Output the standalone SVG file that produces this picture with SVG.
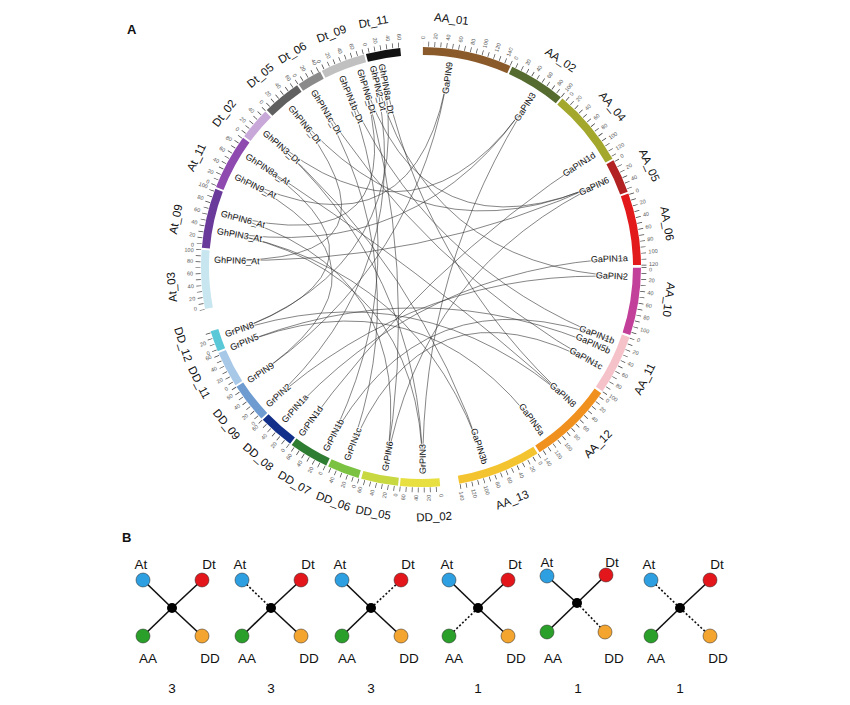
<svg xmlns="http://www.w3.org/2000/svg" width="850" height="705" viewBox="0 0 850 705">
<style>
text{font-family:"Liberation Sans",Arial,sans-serif;fill:#111}
.seg{fill:none;stroke-width:8}
.nm{font-size:11.5px;text-anchor:middle;dominant-baseline:central}
.gr{font-size:9px;text-anchor:end;dominant-baseline:central;stroke:#fff;stroke-width:2;paint-order:stroke;stroke-opacity:0.8}
.gl{font-size:9px;text-anchor:start;dominant-baseline:central;stroke:#fff;stroke-width:2;paint-order:stroke;stroke-opacity:0.8}
.tr{font-size:5.5px;fill:#555;text-anchor:start;dominant-baseline:central}
.tl{font-size:5.5px;fill:#555;text-anchor:end;dominant-baseline:central}
.lk path{fill:none;stroke:#333;stroke-width:0.7;stroke-opacity:0.85}
.ed{stroke:#111;stroke-width:1.6}
.dt{stroke:#111;stroke-width:1.6;stroke-dasharray:2 2}
.bl{fill:#2E9FE0;stroke:#222;stroke-width:0.5}
.rd{fill:#E3161B;stroke:#222;stroke-width:0.5}
.gn{fill:#2AA02A;stroke:#222;stroke-width:0.5}
.or{fill:#F4A530;stroke:#222;stroke-width:0.5}
.ml{font-size:13.5px;text-anchor:middle}
.ct{font-size:13.5px;text-anchor:middle}
</style>
<rect width="850" height="705" fill="#fff"/>
<text x="127" y="34" font-size="13" font-weight="bold">A</text>
<text x="122" y="542" font-size="13" font-weight="bold">B</text>

<circle cx="421" cy="267" r="223" fill="none" stroke="#444" stroke-width="5" stroke-dasharray="0.7 5.38"/>
<g fill="none" stroke="#fff" stroke-width="8">
<circle cx="421" cy="267" r="223" stroke-dasharray="19 2000" transform="rotate(80.2 421 267)"/>
<circle cx="421" cy="267" r="223" stroke-dasharray="21.5 2000" transform="rotate(163.2 421 267)"/>
<circle cx="421" cy="267" r="223" stroke-dasharray="23 2000" transform="rotate(264.7 421 267)"/>
</g>

<g id="seg-AA_01"><circle class="seg" cx="421" cy="267" r="216" stroke="#8B5A2B" stroke-dasharray="88.6 2000" transform="rotate(-89.5 421 267)"/><text class="nm" transform="rotate(7 421 267)" x="421" y="17">AA_01</text></g>
<g id="seg-AA_02"><circle class="seg" cx="421" cy="267" r="216" stroke="#556B2F" stroke-dasharray="56.5 2000" transform="rotate(-65.5 421 267)"/><text class="nm" transform="rotate(34 421 267)" x="421" y="17">AA_02</text></g>
<g id="seg-AA_04"><circle class="seg" cx="421" cy="267" r="216" stroke="#A3A82C" stroke-dasharray="77.3 2000" transform="rotate(-50 421 267)"/><text class="nm" transform="rotate(50 421 267)" x="421" y="17">AA_04</text></g>
<g id="seg-AA_05"><circle class="seg" cx="421" cy="267" r="216" stroke="#B22222" stroke-dasharray="33.9 2000" transform="rotate(-29 421 267)"/><text class="nm" transform="rotate(66 421 267)" x="421" y="17">AA_05</text></g>
<g id="seg-AA_06"><circle class="seg" cx="421" cy="267" r="216" stroke="#E31A1C" stroke-dasharray="71.6 2000" transform="rotate(-19.5 421 267)"/><text class="nm" transform="rotate(80 421 267)" x="421" y="17">AA_06</text></g>
<g id="seg-AA_10"><circle class="seg" cx="421" cy="267" r="216" stroke="#C2409A" stroke-dasharray="67.1 2000" transform="rotate(0.2 421 267)"/><text class="nm" transform="rotate(97.5 421 267)" x="421" y="17">AA_10</text></g>
<g id="seg-AA_11"><circle class="seg" cx="421" cy="267" r="216" stroke="#F4C2C8" stroke-dasharray="59.6 2000" transform="rotate(18.6 421 267)"/><text class="nm" transform="rotate(-63.4 421 267)" x="421" y="517">AA_11</text></g>
<g id="seg-AA_12"><circle class="seg" cx="421" cy="267" r="216" stroke="#F0901E" stroke-dasharray="84.4 2000" transform="rotate(35 421 267)"/><text class="nm" transform="rotate(-45 421 267)" x="421" y="517">AA_12</text></g>
<g id="seg-AA_13"><circle class="seg" cx="421" cy="267" r="216" stroke="#F4C430" stroke-dasharray="82.9 2000" transform="rotate(58 421 267)"/><text class="nm" transform="rotate(-21.4 421 267)" x="421" y="517">AA_13</text></g>
<g id="seg-DD_02"><circle class="seg" cx="421" cy="267" r="216" stroke="#E8E040" stroke-dasharray="39.6 2000" transform="rotate(85 421 267)"/><text class="nm" transform="rotate(-3 421 267)" x="421" y="517">DD_02</text></g>
<g id="seg-DD_05"><circle class="seg" cx="421" cy="267" r="216" stroke="#C8D840" stroke-dasharray="36.9 2000" transform="rotate(96 421 267)"/><text class="nm" transform="rotate(11 421 267)" x="421" y="517">DD_05</text></g>
<g id="seg-DD_06"><circle class="seg" cx="421" cy="267" r="216" stroke="#7CC242" stroke-dasharray="32 2000" transform="rotate(106.5 421 267)"/><text class="nm" transform="rotate(20.5 421 267)" x="421" y="517">DD_06</text></g>
<g id="seg-DD_07"><circle class="seg" cx="421" cy="267" r="216" stroke="#2E7D32" stroke-dasharray="39.6 2000" transform="rotate(115.5 421 267)"/><text class="nm" transform="rotate(30.4 421 267)" x="421" y="517">DD_07</text></g>
<g id="seg-DD_08"><circle class="seg" cx="421" cy="267" r="216" stroke="#12308A" stroke-dasharray="35.8 2000" transform="rotate(126.5 421 267)"/><text class="nm" transform="rotate(40.6 421 267)" x="421" y="517">DD_08</text></g>
<g id="seg-DD_09"><circle class="seg" cx="421" cy="267" r="216" stroke="#6E9BD0" stroke-dasharray="39.6 2000" transform="rotate(136.5 421 267)"/><text class="nm" transform="rotate(51 421 267)" x="421" y="517">DD_09</text></g>
<g id="seg-DD_11"><circle class="seg" cx="421" cy="267" r="216" stroke="#A8C8E8" stroke-dasharray="35.8 2000" transform="rotate(147.5 421 267)"/><text class="nm" transform="rotate(62.5 421 267)" x="421" y="517">DD_11</text></g>
<g id="seg-DD_12"><circle class="seg" cx="421" cy="267" r="216" stroke="#5BC8D8" stroke-dasharray="20.7 2000" transform="rotate(157.5 421 267)"/><text class="nm" transform="rotate(72 421 267)" x="421" y="517">DD_12</text></g>
<g id="seg-At_03"><circle class="seg" cx="421" cy="267" r="216" stroke="#C8E6F0" stroke-dasharray="58.4 2000" transform="rotate(169 421 267)"/><text class="nm" transform="rotate(265.4 421 267)" x="421" y="17">At_03</text></g>
<g id="seg-At_09"><circle class="seg" cx="421" cy="267" r="216" stroke="#6A3A9A" stroke-dasharray="59.6 2000" transform="rotate(185 421 267)"/><text class="nm" transform="rotate(281 421 267)" x="421" y="17">At_09</text></g>
<g id="seg-At_11"><circle class="seg" cx="421" cy="267" r="216" stroke="#8E4AAE" stroke-dasharray="55.4 2000" transform="rotate(201.3 421 267)"/><text class="nm" transform="rotate(296 421 267)" x="421" y="17">At_11</text></g>
<g id="seg-Dt_02"><circle class="seg" cx="421" cy="267" r="216" stroke="#C8A8D8" stroke-dasharray="32 2000" transform="rotate(216.5 421 267)"/><text class="nm" transform="rotate(308 421 267)" x="421" y="17">Dt_02</text></g>
<g id="seg-Dt_05"><circle class="seg" cx="421" cy="267" r="216" stroke="#606060" stroke-dasharray="38.5 2000" transform="rotate(225.5 421 267)"/><text class="nm" transform="rotate(320 421 267)" x="421" y="17">Dt_05</text></g>
<g id="seg-Dt_06"><circle class="seg" cx="421" cy="267" r="216" stroke="#8A8A8A" stroke-dasharray="24.5 2000" transform="rotate(236.2 421 267)"/><text class="nm" transform="rotate(329 421 267)" x="421" y="17">Dt_06</text></g>
<g id="seg-Dt_09"><circle class="seg" cx="421" cy="267" r="216" stroke="#C0C0C0" stroke-dasharray="44.5 2000" transform="rotate(243.2 421 267)"/><text class="nm" transform="rotate(339 421 267)" x="421" y="17">Dt_09</text></g>
<g id="seg-Dt_11"><circle class="seg" cx="421" cy="267" r="216" stroke="#111111" stroke-dasharray="34.3 2000" transform="rotate(255.5 421 267)"/><text class="nm" transform="rotate(349 421 267)" x="421" y="17">Dt_11</text></g>

<g id="ticks-right">
<text class="tr" transform="rotate(-89.5 421 267)" x="649" y="267">0</text><text class="tr" transform="rotate(-86.4 421 267)" x="649" y="267">20</text><text class="tr" transform="rotate(-83.25 421 267)" x="649" y="267">40</text><text class="tr" transform="rotate(-80.1 421 267)" x="649" y="267">60</text><text class="tr" transform="rotate(-77 421 267)" x="649" y="267">80</text><text class="tr" transform="rotate(-73.9 421 267)" x="649" y="267">100</text><text class="tr" transform="rotate(-70.75 421 267)" x="649" y="267">120</text><text class="tr" transform="rotate(-67.6 421 267)" x="649" y="267">140</text>
<text class="tr" transform="rotate(-65.5 421 267)" x="649" y="267">0</text><text class="tr" transform="rotate(-62.4 421 267)" x="649" y="267">20</text><text class="tr" transform="rotate(-59.25 421 267)" x="649" y="267">40</text><text class="tr" transform="rotate(-56.1 421 267)" x="649" y="267">60</text><text class="tr" transform="rotate(-53 421 267)" x="649" y="267">80</text>
<text class="tr" transform="rotate(-50.6 421 267)" x="649" y="267">100</text>
<text class="tr" transform="rotate(-49 421 267)" x="649" y="267">0</text><text class="tr" transform="rotate(-46.9 421 267)" x="649" y="267">20</text><text class="tr" transform="rotate(-43.75 421 267)" x="649" y="267">40</text><text class="tr" transform="rotate(-40.6 421 267)" x="649" y="267">60</text><text class="tr" transform="rotate(-37.5 421 267)" x="649" y="267">80</text><text class="tr" transform="rotate(-34.4 421 267)" x="649" y="267">100</text><text class="tr" transform="rotate(-31.25 421 267)" x="649" y="267">120</text>
<text class="tr" transform="rotate(-29 421 267)" x="649" y="267">0</text><text class="tr" transform="rotate(-25.9 421 267)" x="649" y="267">20</text><text class="tr" transform="rotate(-22.75 421 267)" x="649" y="267">40</text>
<text class="tr" transform="rotate(-19.5 421 267)" x="649" y="267">0</text><text class="tr" transform="rotate(-16.4 421 267)" x="649" y="267">20</text><text class="tr" transform="rotate(-13.25 421 267)" x="649" y="267">40</text><text class="tr" transform="rotate(-10.1 421 267)" x="649" y="267">60</text><text class="tr" transform="rotate(-7 421 267)" x="649" y="267">80</text><text class="tr" transform="rotate(-3.9 421 267)" x="649" y="267">100</text><text class="tr" transform="rotate(-0.75 421 267)" x="649" y="267">120</text>
<text class="tr" transform="rotate(0.6 421 267)" x="649" y="267">0</text><text class="tr" transform="rotate(3.3 421 267)" x="649" y="267">20</text><text class="tr" transform="rotate(6.45 421 267)" x="649" y="267">40</text><text class="tr" transform="rotate(9.6 421 267)" x="649" y="267">60</text><text class="tr" transform="rotate(12.7 421 267)" x="649" y="267">80</text><text class="tr" transform="rotate(15.8 421 267)" x="649" y="267">100</text>
<text class="tr" transform="rotate(18.6 421 267)" x="649" y="267">0</text><text class="tr" transform="rotate(21.7 421 267)" x="649" y="267">20</text><text class="tr" transform="rotate(24.85 421 267)" x="649" y="267">40</text><text class="tr" transform="rotate(28 421 267)" x="649" y="267">60</text><text class="tr" transform="rotate(31.1 421 267)" x="649" y="267">80</text><text class="tr" transform="rotate(34.2 421 267)" x="649" y="267">100</text>
<text class="tr" transform="rotate(35.6 421 267)" x="649" y="267">0</text><text class="tr" transform="rotate(38.1 421 267)" x="649" y="267">20</text><text class="tr" transform="rotate(41.25 421 267)" x="649" y="267">40</text><text class="tr" transform="rotate(44.4 421 267)" x="649" y="267">60</text><text class="tr" transform="rotate(47.5 421 267)" x="649" y="267">80</text><text class="tr" transform="rotate(50.6 421 267)" x="649" y="267">100</text><text class="tr" transform="rotate(53.75 421 267)" x="649" y="267">120</text><text class="tr" transform="rotate(56.9 421 267)" x="649" y="267">140</text>
<text class="tr" transform="rotate(58.6 421 267)" x="649" y="267">0</text><text class="tr" transform="rotate(61.1 421 267)" x="649" y="267">20</text><text class="tr" transform="rotate(64.25 421 267)" x="649" y="267">40</text><text class="tr" transform="rotate(67.4 421 267)" x="649" y="267">60</text><text class="tr" transform="rotate(70.5 421 267)" x="649" y="267">80</text><text class="tr" transform="rotate(73.6 421 267)" x="649" y="267">100</text><text class="tr" transform="rotate(76.75 421 267)" x="649" y="267">120</text><text class="tr" transform="rotate(79.9 421 267)" x="649" y="267">140</text>
</g>
<g id="ticks-left">
<text class="tl" transform="rotate(-95 421 267)" x="193" y="267">0</text><text class="tl" transform="rotate(-91.9 421 267)" x="193" y="267">20</text><text class="tl" transform="rotate(-88.75 421 267)" x="193" y="267">40</text><text class="tl" transform="rotate(-85.6 421 267)" x="193" y="267">60</text>
<text class="tl" transform="rotate(-83.6 421 267)" x="193" y="267">0</text><text class="tl" transform="rotate(-80.9 421 267)" x="193" y="267">20</text><text class="tl" transform="rotate(-77.75 421 267)" x="193" y="267">40</text><text class="tl" transform="rotate(-74.6 421 267)" x="193" y="267">60</text>
<text class="tl" transform="rotate(-73 421 267)" x="193" y="267">0</text><text class="tl" transform="rotate(-70.4 421 267)" x="193" y="267">20</text><text class="tl" transform="rotate(-67.25 421 267)" x="193" y="267">40</text>
<text class="tl" transform="rotate(-64 421 267)" x="193" y="267">0</text><text class="tl" transform="rotate(-61.4 421 267)" x="193" y="267">20</text><text class="tl" transform="rotate(-58.25 421 267)" x="193" y="267">40</text><text class="tl" transform="rotate(-55.1 421 267)" x="193" y="267">60</text>
<text class="tl" transform="rotate(-53 421 267)" x="193" y="267">0</text><text class="tl" transform="rotate(-50.4 421 267)" x="193" y="267">20</text><text class="tl" transform="rotate(-47.25 421 267)" x="193" y="267">40</text><text class="tl" transform="rotate(-44.1 421 267)" x="193" y="267">60</text>
<text class="tl" transform="rotate(-43 421 267)" x="193" y="267">0</text><text class="tl" transform="rotate(-40.4 421 267)" x="193" y="267">20</text><text class="tl" transform="rotate(-37.25 421 267)" x="193" y="267">40</text><text class="tl" transform="rotate(-34.1 421 267)" x="193" y="267">60</text>
<text class="tl" transform="rotate(-32 421 267)" x="193" y="267">0</text><text class="tl" transform="rotate(-29.4 421 267)" x="193" y="267">20</text><text class="tl" transform="rotate(-26.25 421 267)" x="193" y="267">40</text><text class="tl" transform="rotate(-23.1 421 267)" x="193" y="267">60</text>
<text class="tl" transform="rotate(-22 421 267)" x="193" y="267">0</text><text class="tl" transform="rotate(-19.4 421 267)" x="193" y="267">20</text>
<text class="tl" transform="rotate(-10.5 421 267)" x="193" y="267">0</text><text class="tl" transform="rotate(-7.9 421 267)" x="193" y="267">20</text><text class="tl" transform="rotate(-4.75 421 267)" x="193" y="267">40</text><text class="tl" transform="rotate(-1.6 421 267)" x="193" y="267">60</text><text class="tl" transform="rotate(1.5 421 267)" x="193" y="267">80</text><text class="tl" transform="rotate(4.2 421 267)" x="193" y="267">100</text>
<text class="tl" transform="rotate(5.6 421 267)" x="193" y="267">0</text><text class="tl" transform="rotate(8.1 421 267)" x="193" y="267">20</text><text class="tl" transform="rotate(11.25 421 267)" x="193" y="267">40</text><text class="tl" transform="rotate(14.4 421 267)" x="193" y="267">60</text><text class="tl" transform="rotate(17.5 421 267)" x="193" y="267">80</text><text class="tl" transform="rotate(20.6 421 267)" x="193" y="267">100</text>
<text class="tl" transform="rotate(21.9 421 267)" x="193" y="267">0</text><text class="tl" transform="rotate(24.4 421 267)" x="193" y="267">20</text><text class="tl" transform="rotate(27.55 421 267)" x="193" y="267">40</text><text class="tl" transform="rotate(30.7 421 267)" x="193" y="267">60</text><text class="tl" transform="rotate(33.8 421 267)" x="193" y="267">80</text>
<text class="tl" transform="rotate(36.9 421 267)" x="193" y="267">0</text><text class="tl" transform="rotate(39.6 421 267)" x="193" y="267">20</text><text class="tl" transform="rotate(42.75 421 267)" x="193" y="267">40</text>
<text class="tl" transform="rotate(46 421 267)" x="193" y="267">0</text><text class="tl" transform="rotate(48.6 421 267)" x="193" y="267">20</text><text class="tl" transform="rotate(51.75 421 267)" x="193" y="267">40</text><text class="tl" transform="rotate(54.9 421 267)" x="193" y="267">60</text>
<text class="tl" transform="rotate(56.6 421 267)" x="193" y="267">0</text><text class="tl" transform="rotate(59.3 421 267)" x="193" y="267">20</text><text class="tl" transform="rotate(62.45 421 267)" x="193" y="267">40</text>
<text class="tl" transform="rotate(63.6 421 267)" x="193" y="267">0</text><text class="tl" transform="rotate(66.3 421 267)" x="193" y="267">20</text><text class="tl" transform="rotate(69.45 421 267)" x="193" y="267">40</text><text class="tl" transform="rotate(72.6 421 267)" x="193" y="267">60</text>
<text class="tl" transform="rotate(75.9 421 267)" x="193" y="267">0</text><text class="tl" transform="rotate(78.6 421 267)" x="193" y="267">20</text><text class="tl" transform="rotate(81.75 421 267)" x="193" y="267">40</text><text class="tl" transform="rotate(84.6 421 267)" x="193" y="267">60</text>
</g>

<g id="links" class="lk">
<path d="M449.5 64 Q421 267 249.9 379.9"/>
<path d="M449.5 64 Q421 267 236.7 177.1"/>
<path d="M249.9 379.9 Q421 267 236.7 177.1"/>
<path d="M532.6 95.1 Q421 267 422.8 472"/>
<path d="M532.6 95.1 Q421 267 219.1 231.4"/>
<path d="M532.6 95.1 Q421 267 265.6 133.3"/>
<path d="M422.8 472 Q421 267 219.1 231.4"/>
<path d="M422.8 472 Q421 267 265.6 133.3"/>
<path d="M484.3 462 Q421 267 219.1 231.4"/>
<path d="M484.3 462 Q421 267 265.6 133.3"/>
<path d="M592.9 155.4 Q421 267 301.7 433.7"/>
<path d="M606.8 180.4 Q421 267 385.4 468.9"/>
<path d="M606.8 180.4 Q421 267 216.1 259.8"/>
<path d="M606.8 180.4 Q421 267 291.4 108.1"/>
<path d="M606.8 180.4 Q421 267 360.4 71.2"/>
<path d="M385.4 468.9 Q421 267 223 213.9"/>
<path d="M385.4 468.9 Q421 267 360.4 71.2"/>
<path d="M216.1 259.8 Q421 267 291.4 108.1"/>
<path d="M223 213.9 Q421 267 360.4 71.2"/>
<path d="M625.8 258.1 Q421 267 284.6 420.1"/>
<path d="M625.8 276.7 Q421 267 268.7 404.2"/>
<path d="M625.8 276.7 Q421 267 373.2 67.7"/>
<path d="M268.7 404.2 Q421 267 373.2 67.7"/>
<path d="M612.4 340.5 Q421 267 326.4 448.8"/>
<path d="M612.4 340.5 Q421 267 342.2 77.7"/>
<path d="M326.4 448.8 Q421 267 342.2 77.7"/>
<path d="M608.3 350.4 Q421 267 232.3 347.1"/>
<path d="M541.5 432.8 Q421 267 232.3 347.1"/>
<path d="M600.3 366.4 Q421 267 347.5 458.4"/>
<path d="M600.3 366.4 Q421 267 314.2 92"/>
<path d="M347.5 458.4 Q421 267 314.2 92"/>
<path d="M573.3 404.2 Q421 267 227.2 333.7"/>
<path d="M573.3 404.2 Q421 267 248.1 156.9"/>
<path d="M573.3 404.2 Q421 267 381.9 65.8"/>
<path d="M227.2 333.7 Q421 267 248.1 156.9"/>
<path d="M227.2 333.7 Q421 267 381.9 65.8"/>
</g>

<g id="genes">
<text class="gr" transform="rotate(-82 421 267)" x="628" y="267">GaPIN9</text>
<text class="gr" transform="rotate(-57 421 267)" x="628" y="267">GaPIN3</text>
<text class="gr" transform="rotate(-33 421 267)" x="628" y="267">GaPIN1d</text>
<text class="gr" transform="rotate(-25 421 267)" x="628" y="267">GaPIN6</text>
<text class="gr" transform="rotate(-2.5 421 267)" x="628" y="267">GaPIN1a</text>
<text class="gr" transform="rotate(2.7 421 267)" x="628" y="267">GaPIN2</text>
<text class="gr" transform="rotate(21 421 267)" x="628" y="267">GaPIN1b</text>
<text class="gr" transform="rotate(24 421 267)" x="628" y="267">GaPIN5b</text>
<text class="gr" transform="rotate(29 421 267)" x="628" y="267">GaPIN1c</text>
<text class="gr" transform="rotate(42 421 267)" x="628" y="267">GaPIN8</text>
<text class="gr" transform="rotate(54 421 267)" x="628" y="267">GaPIN5a</text>
<text class="gr" transform="rotate(72 421 267)" x="628" y="267">GaPIN3b</text>
<text class="gl" transform="rotate(-90.5 421 267)" x="214" y="267">GrPIN3</text>
<text class="gl" transform="rotate(-80 421 267)" x="214" y="267">GrPIN6</text>
<text class="gl" transform="rotate(-69 421 267)" x="214" y="267">GrPIN1c</text>
<text class="gl" transform="rotate(-62.5 421 267)" x="214" y="267">GrPIN1b</text>
<text class="gl" transform="rotate(-54.4 421 267)" x="214" y="267">GrPIN1d</text>
<text class="gl" transform="rotate(-48.3 421 267)" x="214" y="267">GrPIN1a</text>
<text class="gl" transform="rotate(-42 421 267)" x="214" y="267">GrPIN2</text>
<text class="gl" transform="rotate(-33.4 421 267)" x="214" y="267">GrPIN9</text>
<text class="gl" transform="rotate(-23 421 267)" x="214" y="267">GrPIN5</text>
<text class="gl" transform="rotate(-19 421 267)" x="214" y="267">GrPIN8</text>
<text class="gl" transform="rotate(2 421 267)" x="214" y="267">GhPIN6_At</text>
<text class="gl" transform="rotate(10 421 267)" x="214" y="267">GhPIN3_At</text>
<text class="gl" transform="rotate(15 421 267)" x="214" y="267">GhPIN6_At</text>
<text class="gl" transform="rotate(26 421 267)" x="214" y="267">GhPIN9_At</text>
<text class="gl" transform="rotate(32.5 421 267)" x="214" y="267">GhPIN8a_At</text>
<text class="gl" transform="rotate(40.7 421 267)" x="214" y="267">GhPIN3_Dt</text>
<text class="gl" transform="rotate(50.8 421 267)" x="214" y="267">GhPIN6_Dt</text>
<text class="gl" transform="rotate(58.6 421 267)" x="214" y="267">GhPIN1c_Dt</text>
<text class="gl" transform="rotate(67.4 421 267)" x="214" y="267">GhPIN1b_Dt</text>
<text class="gl" transform="rotate(72.8 421 267)" x="214" y="267">GhPIN6_Dt</text>
<text class="gl" transform="rotate(76.5 421 267)" x="214" y="267">GhPIN2_Dt</text>
<text class="gl" transform="rotate(79 421 267)" x="214" y="267">GhPIN8a_Dt</text>
</g>

<g id="m1">
<line class="ed" x1="172" y1="608" x2="143" y2="580"/><line class="ed" x1="172" y1="608" x2="202" y2="580"/><line class="ed" x1="172" y1="608" x2="143" y2="636"/><line class="ed" x1="172" y1="608" x2="202" y2="636"/>
<circle cx="172" cy="608" r="5" fill="#000"/><circle class="bl" cx="143" cy="580" r="7"/><circle class="rd" cx="202" cy="580" r="7"/><circle class="gn" cx="143" cy="636" r="7"/><circle class="or" cx="202" cy="636" r="7"/>
<text class="ml" x="141" y="569">At</text><text class="ml" x="209" y="569">Dt</text><text class="ml" x="148" y="663">AA</text><text class="ml" x="210" y="663">DD</text><text class="ct" x="172" y="693">3</text>
</g>
<g id="m2">
<line class="dt" x1="271" y1="608" x2="242" y2="580"/><line class="ed" x1="271" y1="608" x2="301" y2="580"/><line class="ed" x1="271" y1="608" x2="242" y2="636"/><line class="ed" x1="271" y1="608" x2="301" y2="636"/>
<circle cx="271" cy="608" r="5" fill="#000"/><circle class="bl" cx="242" cy="580" r="7"/><circle class="rd" cx="301" cy="580" r="7"/><circle class="gn" cx="242" cy="636" r="7"/><circle class="or" cx="301" cy="636" r="7"/>
<text class="ml" x="240" y="569">At</text><text class="ml" x="308" y="569">Dt</text><text class="ml" x="247" y="663">AA</text><text class="ml" x="309" y="663">DD</text><text class="ct" x="271" y="693">3</text>
</g>
<g id="m3">
<line class="ed" x1="371" y1="608" x2="342" y2="580"/><line class="dt" x1="371" y1="608" x2="401" y2="580"/><line class="ed" x1="371" y1="608" x2="342" y2="636"/><line class="ed" x1="371" y1="608" x2="401" y2="636"/>
<circle cx="371" cy="608" r="5" fill="#000"/><circle class="bl" cx="342" cy="580" r="7"/><circle class="rd" cx="401" cy="580" r="7"/><circle class="gn" cx="342" cy="636" r="7"/><circle class="or" cx="401" cy="636" r="7"/>
<text class="ml" x="340" y="569">At</text><text class="ml" x="408" y="569">Dt</text><text class="ml" x="347" y="663">AA</text><text class="ml" x="409" y="663">DD</text><text class="ct" x="371" y="693">3</text>
</g>
<g id="m4">
<line class="ed" x1="478" y1="608" x2="449" y2="580"/><line class="ed" x1="478" y1="608" x2="508" y2="580"/><line class="dt" x1="478" y1="608" x2="449" y2="636"/><line class="ed" x1="478" y1="608" x2="508" y2="636"/>
<circle cx="478" cy="608" r="5" fill="#000"/><circle class="bl" cx="449" cy="580" r="7"/><circle class="rd" cx="508" cy="580" r="7"/><circle class="gn" cx="449" cy="636" r="7"/><circle class="or" cx="508" cy="636" r="7"/>
<text class="ml" x="447" y="569">At</text><text class="ml" x="515" y="569">Dt</text><text class="ml" x="454" y="663">AA</text><text class="ml" x="516" y="663">DD</text><text class="ct" x="478" y="693">1</text>
</g>
<g id="m5">
<line class="ed" x1="577" y1="603" x2="547" y2="576"/><line class="ed" x1="577" y1="603" x2="606" y2="575"/><line class="ed" x1="577" y1="603" x2="547" y2="632"/><line class="dt" x1="577" y1="603" x2="605" y2="632"/>
<circle cx="577" cy="603" r="5" fill="#000"/><circle class="bl" cx="547" cy="576" r="7"/><circle class="rd" cx="606" cy="575" r="7"/><circle class="gn" cx="547" cy="632" r="7"/><circle class="or" cx="605" cy="632" r="7"/>
<text class="ml" x="547" y="567">At</text><text class="ml" x="612" y="567">Dt</text><text class="ml" x="553" y="663">AA</text><text class="ml" x="614" y="663">DD</text><text class="ct" x="578" y="693">1</text>
</g>
<g id="m6">
<line class="dt" x1="680" y1="608" x2="651" y2="580"/><line class="ed" x1="680" y1="608" x2="710" y2="580"/><line class="ed" x1="680" y1="608" x2="651" y2="636"/><line class="dt" x1="680" y1="608" x2="710" y2="636"/>
<circle cx="680" cy="608" r="5" fill="#000"/><circle class="bl" cx="651" cy="580" r="7"/><circle class="rd" cx="710" cy="580" r="7"/><circle class="gn" cx="651" cy="636" r="7"/><circle class="or" cx="710" cy="636" r="7"/>
<text class="ml" x="649" y="569">At</text><text class="ml" x="717" y="569">Dt</text><text class="ml" x="656" y="663">AA</text><text class="ml" x="718" y="663">DD</text><text class="ct" x="680" y="693">1</text>
</g>
</svg>
